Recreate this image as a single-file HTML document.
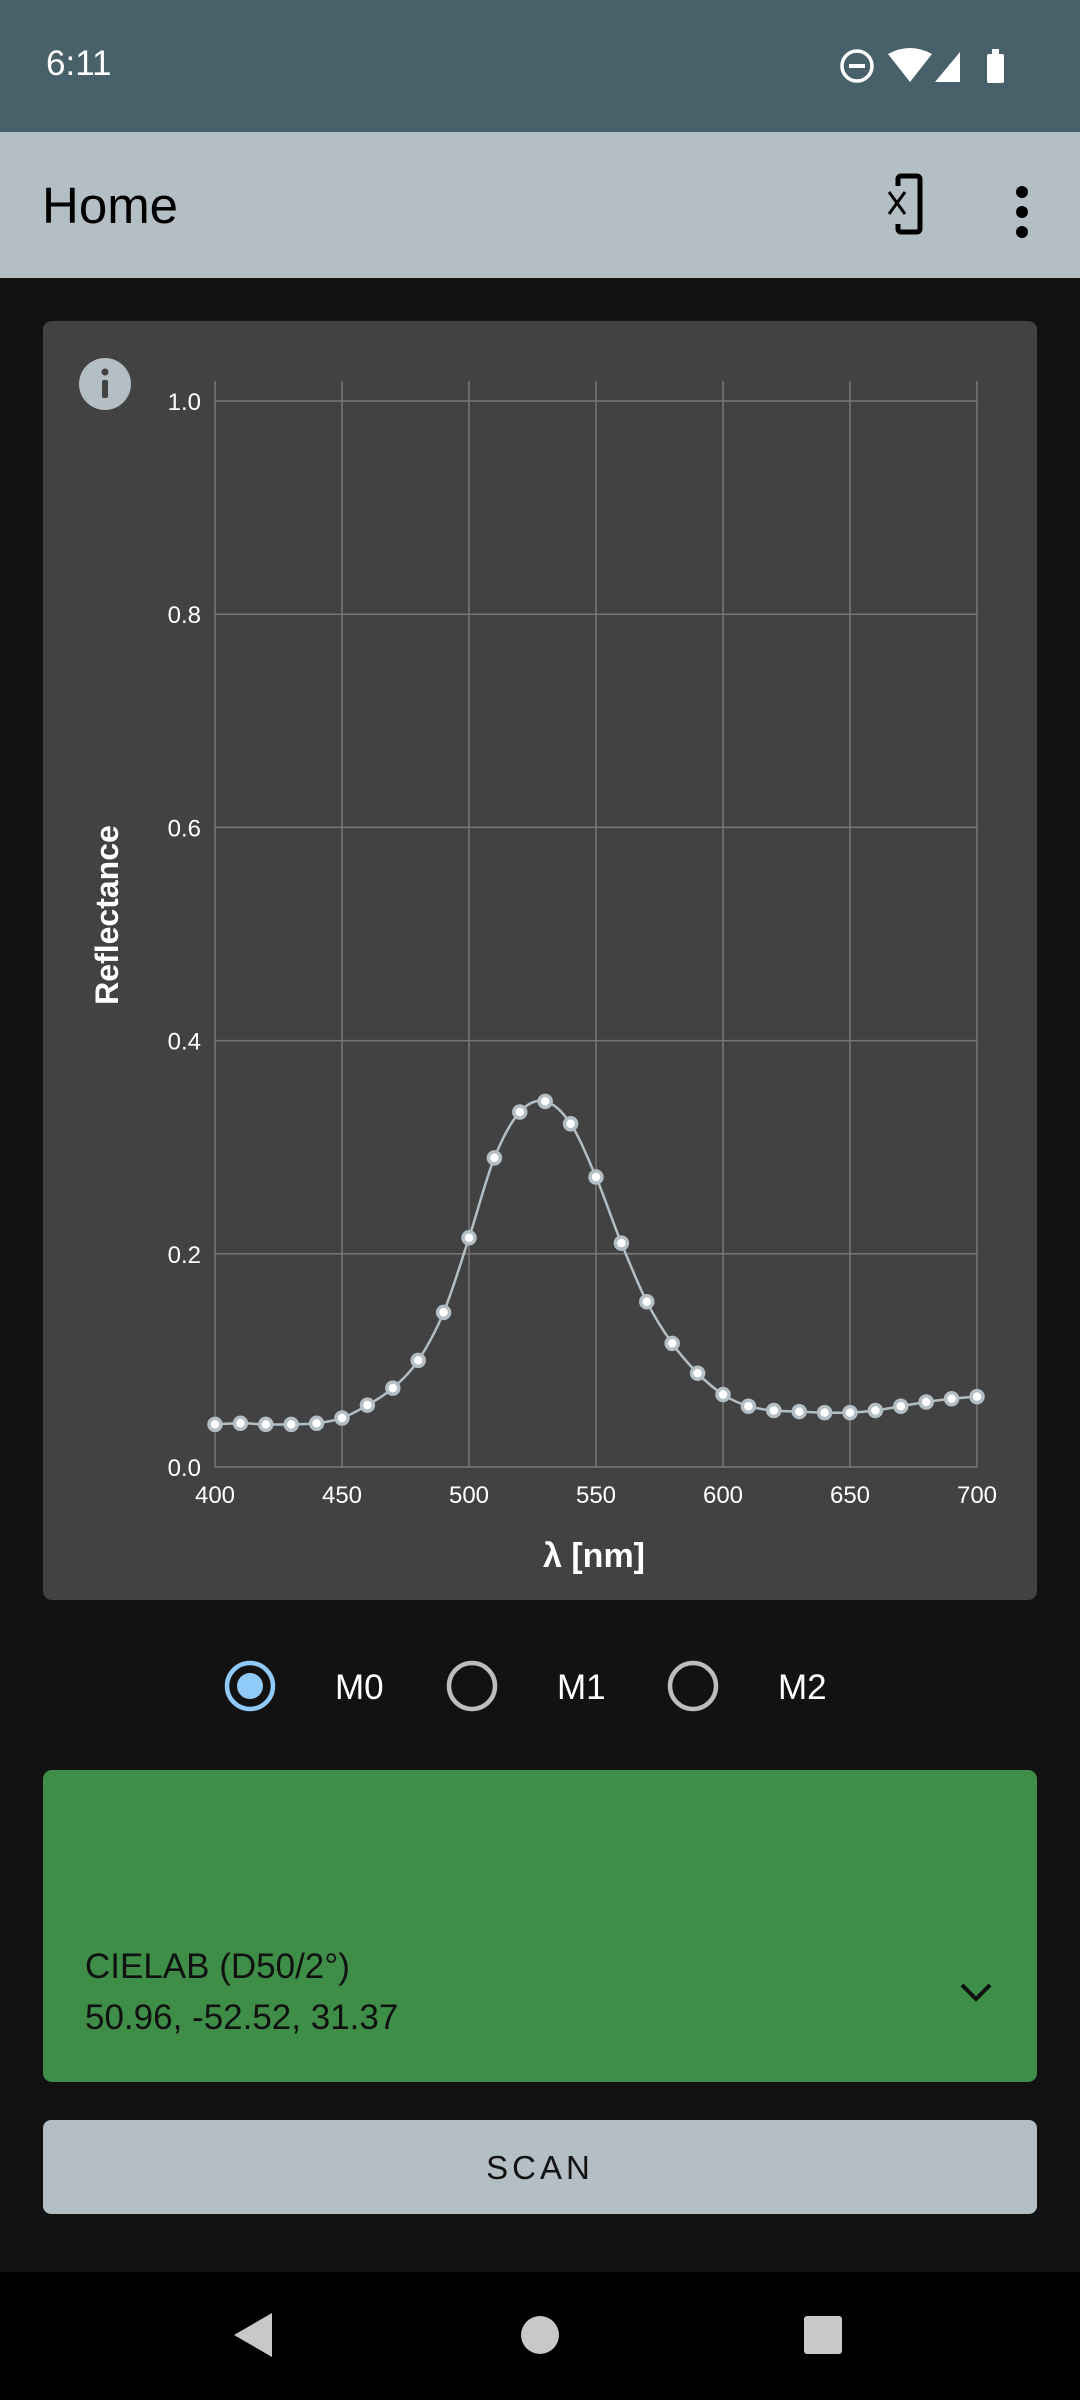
<!DOCTYPE html>
<html><head><meta charset="utf-8"><style>
body{margin:0;width:1080px;height:2400px;background:#121212;font-family:"Liberation Sans",sans-serif;position:relative;overflow:hidden}
div{box-sizing:border-box}
.abs{position:absolute}
</style></head><body>
<div class="abs" style="left:0;top:0;width:1080px;height:132px;background:#48606a">
 <div class="abs" style="left:46px;top:44px;color:#fff;font-size:35px">6:11</div>
 <svg class="abs" style="left:830px;top:44px" width="180" height="44">
  <circle cx="27" cy="22" r="15" fill="none" stroke="#fff" stroke-width="3.5"/><rect x="19" y="20" width="16" height="4" fill="#fff"/>
  <path d="M58 10 Q80 -2 102 10 L80 38 Z" fill="#fff"/>
  <path d="M105 38 L130 8 L130 38 Z" fill="#fff"/>
  <rect x="157" y="10" width="17" height="29" rx="2" fill="#fff"/><rect x="162" y="5" width="7" height="6" fill="#fff"/>
 </svg>
</div>
<div class="abs" style="left:0;top:132px;width:1080px;height:146px;background:#b3bec5">
 <div class="abs" style="left:42px;top:44px;font-size:51px;color:#000">Home</div>
 <svg class="abs" style="left:886px;top:40px" width="60" height="68">
  <rect x="12" y="4" width="22" height="56" rx="3" fill="none" stroke="#000" stroke-width="5"/><rect x="5" y="14" width="12" height="38" fill="#b3bec5"/>
  <path d="M3 20 L19 42 M19 20 L3 42" stroke="#000" stroke-width="3"/>
 </svg>
 <svg class="abs" style="left:1010px;top:50px" width="24" height="60">
  <circle cx="12" cy="10" r="6"/><circle cx="12" cy="30" r="6"/><circle cx="12" cy="50" r="6"/>
 </svg>
</div>
<div class="abs" style="left:43px;top:321px;width:994px;height:1279px;background:#424242;border-radius:9px"></div>
<svg class="abs" id="chart" style="left:0;top:0" width="1080" height="1620"></svg>
<div class="abs" style="left:0;top:1650px;width:1080px;height:72px">
 <svg class="abs" style="left:0;top:0" width="1080" height="72">
  <g><circle cx="250" cy="36" r="23" fill="none" stroke="#90caf9" stroke-width="4.5"/><circle cx="250" cy="36" r="13" fill="#90caf9"/></g>
  <g><circle cx="472" cy="36" r="23" fill="none" stroke="#bdbdbd" stroke-width="4.5"/></g>
  <g><circle cx="693" cy="36" r="23" fill="none" stroke="#bdbdbd" stroke-width="4.5"/></g>
  <text x="335" y="49" fill="#fff" font-size="35" font-family="Liberation Sans">M0</text>
  <text x="557" y="49" fill="#fff" font-size="35" font-family="Liberation Sans">M1</text>
  <text x="778" y="49" fill="#fff" font-size="35" font-family="Liberation Sans">M2</text>
 </svg>
</div>
<div class="abs" style="left:43px;top:1770px;width:994px;height:312px;background:#3e8e48;border-radius:9px">
 <div class="abs" style="left:42px;top:177px;font-size:35px;color:#111">CIELAB (D50/2°)</div>
 <div class="abs" style="left:42px;top:228px;font-size:35px;color:#111">50.96, -52.52, 31.37</div>
 <svg class="abs" style="left:915px;top:210px" width="36" height="24"><path d="M4 5 L18 19 L32 5" fill="none" stroke="#111" stroke-width="4"/></svg>
</div>
<div class="abs" style="left:43px;top:2120px;width:994px;height:94px;background:#b3bec5;border-radius:8px;text-align:center;line-height:96px;font-size:33px;letter-spacing:4px;color:#111">SCAN</div>
<div class="abs" style="left:0;top:2272px;width:1080px;height:128px;background:#000">
 <svg class="abs" style="left:0;top:0" width="1080" height="128">
  <path d="M234 63 L272 41 L272 85 Z" fill="#c8c8c8"/>
  <circle cx="540" cy="63" r="19" fill="#c8c8c8"/>
  <rect x="804" y="44" width="38" height="38" rx="3" fill="#c8c8c8"/>
 </svg>
</div>
<script>
const wavelengths=[400,410,420,430,440,450,460,470,480,490,500,510,520,530,540,550,560,570,580,590,600,610,620,630,640,650,660,670,680,690,700];
const reflectance=[0.040,0.041,0.040,0.040,0.041,0.046,0.058,0.074,0.100,0.145,0.215,0.290,0.333,0.343,0.322,0.272,0.210,0.155,0.116,0.088,0.068,0.057,0.053,0.052,0.051,0.051,0.053,0.057,0.061,0.064,0.066];
const xTicks=[400,450,500,550,600,650,700];
const yTicks=[0.0,0.2,0.4,0.6,0.8,1.0];
const NS='http://www.w3.org/2000/svg';
const svg=document.getElementById('chart');
const X0=215,X1=977,Y0=1467,Y1=401;
function sx(v){return X0+(v-400)/300*(X1-X0);}
function sy(v){return Y0-v*(Y0-Y1);}
function mk(t,a,p){const e=document.createElementNS(NS,t);for(const k in a)e.setAttribute(k,a[k]);(p||svg).appendChild(e);return e;}
const info=mk('g',{});


mk('circle',{cx:105,cy:384,r:26,fill:'#b3bec5'},info);
mk('rect',{x:102,y:380,width:6,height:18,rx:2,fill:'#424242'},info);
mk('circle',{cx:105,cy:372,r:3.5,fill:'#424242'},info);
xTicks.forEach(v=>{
 const l=mk('line',{x1:sx(v),x2:sx(v),y1:381,y2:Y0,stroke:'#777','stroke-width':1.5});
 
 
 const t=mk('text',{x:sx(v),y:1503,fill:'#fff','font-size':24,'text-anchor':'middle','font-family':'Liberation Sans'});
 
 
 t.textContent=v;
});
yTicks.forEach(v=>{
 const l=mk('line',{x1:X0,x2:X1,y1:sy(v),y2:sy(v),stroke:'#777','stroke-width':1.5});
 
 
 const t=mk('text',{x:201,y:sy(v)+9,fill:'#fff','font-size':24,'text-anchor':'end','font-family':'Liberation Sans'});
 
 
 t.textContent=v.toFixed(1);
});
const xt=mk('text',{x:594,y:1567,fill:'#fff','font-size':34,'font-weight':'bold','text-anchor':'middle','font-family':'Liberation Sans'});


xt.textContent='λ [nm]';
const yt=mk('text',{x:0,y:0,fill:'#fff','font-size':32,'font-weight':'bold','text-anchor':'middle','font-family':'Liberation Sans',transform:'translate(118,915) rotate(-90)'});


yt.textContent='Reflectance';
const pts=wavelengths.map((w,i)=>[sx(w),sy(reflectance[i])]);
let d='M'+pts[0][0]+' '+pts[0][1];
for(let i=0;i<pts.length-1;i++){
 const p0=pts[Math.max(0,i-1)],p1=pts[i],p2=pts[i+1],p3=pts[Math.min(pts.length-1,i+2)];
 d+=' C'+(p1[0]+(p2[0]-p0[0])/6)+' '+(p1[1]+(p2[1]-p0[1])/6)+' '+(p2[0]-(p3[0]-p1[0])/6)+' '+(p2[1]-(p3[1]-p1[1])/6)+' '+p2[0]+' '+p2[1];
}
const line=mk('path',{d:d,fill:'none',stroke:'#b3bec5','stroke-width':2.5});


pts.forEach(p=>{
 const c=mk('circle',{cx:p[0],cy:p[1],r:6,fill:'#fff',stroke:'#b3bec5','stroke-width':3.5});
 
 
});
</script>
</body></html>
